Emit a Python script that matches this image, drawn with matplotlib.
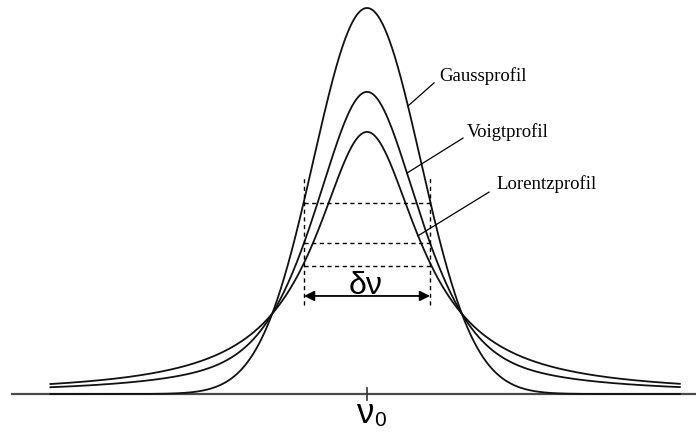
import numpy as np
import matplotlib.pyplot as plt

# line profiles with common centre and common half width (FWHM = delta nu)
CENTER = 0.0
FWHM = 1.0
profile_names = ["Gaussprofil", "Voigtprofil", "Lorentzprofil"]
peak_heights = [1.0, 0.782, 0.679]   # gauss peak = 1
half_levels = [0.495, 0.391, 0.332]  # dashed half-maximum lines as drawn
voigt_lorentz_share = 0.677          # pseudo-Voigt mixing

x_range = (-2.52, 2.49)


def gauss(x):
    sigma = FWHM / (2 * np.sqrt(2 * np.log(2)))
    return peak_heights[0] * np.exp(-(x - CENTER) ** 2 / (2 * sigma ** 2))


def lorentz(x):
    return peak_heights[2] / (1 + ((x - CENTER) / (FWHM / 2)) ** 2)


def voigt(x):
    eta = voigt_lorentz_share
    return eta * lorentz(x) + (1 - eta) * gauss(x)


fig = plt.figure(figsize=(6.96, 4.32), dpi=100)
ax = fig.add_axes([0, 0, 1, 1])
ax.set_xlim(-2.913, 2.611)
ax.set_ylim(-0.0984, 1.0207)
ax.axis("off")

# baseline and centre tick
ax.plot([-2.817, 2.611], [0, 0], color="#4a4a4a", lw=1.6)
ax.plot([CENTER, CENTER], [-0.0155, 0.0155], color="#333333", lw=1.2)
ax.text(CENTER - 0.01, -0.050, "ν", ha="center", va="center",
        fontsize=25, family="Liberation Sans")
ax.text(CENTER + 0.06, -0.068, "0", ha="left", va="center",
        fontsize=15, family="Liberation Sans")

x = np.linspace(x_range[0], x_range[1], 1500)
for f in (gauss, voigt, lorentz):
    ax.plot(x, f(x), color="#111111", lw=1.3, solid_capstyle="butt")

# half-maximum markers
left, right = CENTER - FWHM / 2, CENTER + FWHM / 2
dash = dict(color="black", lw=1.0, ls=(0, (3, 2.5)))
for h in half_levels:
    ax.plot([left, right], [h, h], **dash)
for xv in (left, right):
    ax.plot([xv, xv], [0.231, 0.560], **dash)

ax.annotate("", xy=(left, 0.254), xytext=(right, 0.254),
            arrowprops=dict(arrowstyle="<|-|>", color="black", lw=1.3,
                            mutation_scale=15, shrinkA=0, shrinkB=0))
ax.text(CENTER - 0.01, 0.280, "δν", ha="center", va="center",
        fontsize=23, family="Liberation Sans")

# labels with leader lines
leaders = [
    ((0.325, gauss(0.325)), (0.532, 0.806), (0.571, 0.824)),
    ((0.317, voigt(0.317)), (0.762, 0.663), (0.794, 0.679)),
    ((0.405, lorentz(0.405)), (0.968, 0.523), (1.024, 0.544)),
]
for name, (p0, p1, pt) in zip(profile_names, leaders):
    ax.plot([p0[0], p1[0]], [p0[1], p1[1]], color="black", lw=0.9)
    ax.text(pt[0], pt[1], name, ha="left", va="center", fontsize=13.5,
            family="Liberation Serif")

fig.savefig("out.png", dpi=100)
